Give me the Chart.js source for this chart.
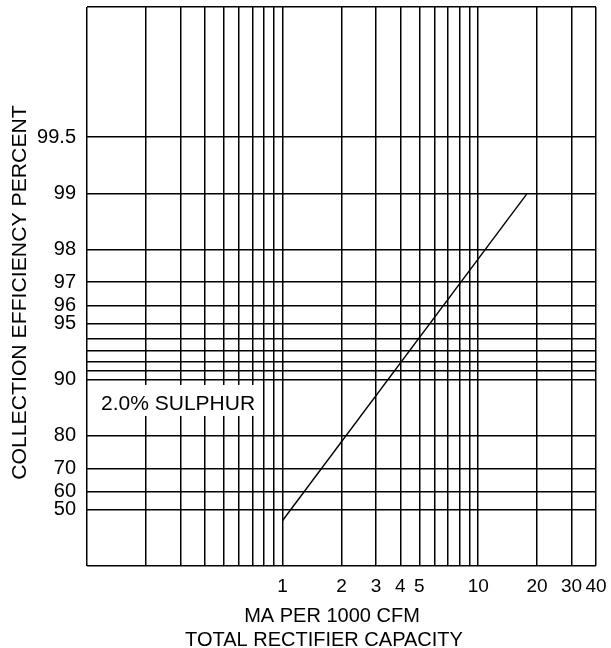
<!DOCTYPE html>
<html>
<head>
<meta charset="utf-8">
<script src="https://cdn.jsdelivr.net/npm/chart.js@4.4.0/dist/chart.umd.min.js"></script>
<style>
  body { margin: 0; background: #fff; }
  #wrap { width: 611px; height: 648px; position: relative; }
</style>
</head>
<body>
<div id="wrap"><canvas id="myChart"></canvas></div>
<script>
// Chart values
const capTicks = [0.1, 0.2, 0.3, 0.4, 0.5, 0.6, 0.7, 0.8, 0.9, 1, 2, 3, 4, 5, 6, 7, 8, 9, 10, 20, 30, 40];
const capLabels = ['', '', '', '', '', '', '', '', '', '1', '2', '3', '4', '5', '', '', '', '', '10', '20', '30', '40'];
const effTicks = [99.9, 99.5, 99, 98, 97, 96, 95, 94, 93, 92, 91, 90, 80, 70, 60, 50, 0];
const effLabels = ['', '99.5', '99', '98', '97', '96', '95', '', '', '', '', '90', '80', '70', '60', '50', ''];
const sulphurCap = [1, 17.8];
const sulphurEff = [43, 99];
const seriesLabel = '2.0% SULPHUR';
const xTitle = ['MA PER 1000 CFM', 'TOTAL RECTIFIER CAPACITY'];
const yTitle = 'COLLECTION EFFICIENCY PERCENT';

// efficiency is plotted as penetration (100 - eff) on a reversed log axis
const toPen = e => Math.round((100 - e) * 1000) / 1000;

const FONT = '"Liberation Sans", Arial, Helvetica, sans-serif';

const data = {
  datasets: [{
    label: seriesLabel,
    data: sulphurCap.map((c, i) => ({ x: c, y: toPen(sulphurEff[i]) })),
    borderColor: '#000',
    borderWidth: 1.4,
    pointRadius: 0,
    fill: false
  }]
};

// titles and the series label, drawn by hand so they sit where the reference has them
const textPlugin = {
  id: 'texts',
  afterDatasetsDraw(chart) {
    const ctx = chart.ctx;
    const xs = chart.scales.x, ys = chart.scales.y;
    ctx.save();
    ctx.fillStyle = '#000';

    // series label with white box
    ctx.font = '21px ' + FONT;
    const tx = xs.getPixelForValue(0.118);
    const ty = ys.getPixelForValue(toPen(86.5));
    const w = ctx.measureText(seriesLabel).width;
    ctx.fillStyle = '#fff';
    ctx.fillRect(tx - 5, ty - 19, w + 6.5, 31);
    ctx.fillStyle = '#000';
    ctx.textBaseline = 'middle';
    ctx.textAlign = 'left';
    ctx.fillText(seriesLabel, tx, ty);

    // x title
    ctx.font = '20px ' + FONT;
    ctx.textAlign = 'center';
    ctx.textBaseline = 'alphabetic';
    ctx.fillText(xTitle[0], 332, 622);
    ctx.fillText(xTitle[1], 324, 646);

    // y title
    ctx.translate(26, 292.5);
    ctx.rotate(-Math.PI / 2);
    ctx.scale(1.06, 1);
    ctx.textBaseline = 'alphabetic';
    ctx.fillText(yTitle, 0, 0);
    ctx.restore();
  }
};

const config = {
  type: 'line',
  data: data,
  options: {
    responsive: true,
    maintainAspectRatio: false,
    animation: false,
    layout: { padding: { top: 7, right: 15, left: 0, bottom: 0 } },
    plugins: {
      legend: { display: false },
      tooltip: { enabled: false }
    },
    scales: {
      x: {
        type: 'logarithmic',
        min: 0.1,
        max: 40,
        afterBuildTicks: s => { s.ticks = capTicks.map(v => ({ value: v })); },
        afterFit: s => { s.height = 82; s.paddingLeft = 0; s.paddingRight = 0; },
        border: { display: false },
        grid: { color: '#000', lineWidth: 1.5, drawTicks: false },
        ticks: {
          autoSkip: false,
          maxRotation: 0,
          padding: 9,
          color: '#000',
          font: { family: FONT, size: 19 },
          callback: (v, i) => capLabels[i]
        }
      },
      y: {
        type: 'logarithmic',
        reverse: true,
        min: 0.1,
        max: 100,
        afterBuildTicks: s => { s.ticks = effTicks.map(e => ({ value: toPen(e) })); },
        afterFit: s => { s.width = 87; s.paddingTop = 0; s.paddingBottom = 0; },
        border: { display: false },
        grid: { color: '#000', lineWidth: 1.5, drawTicks: false },
        ticks: {
          autoSkip: false,
          padding: 11,
          color: '#000',
          font: { family: FONT, size: 20 },
          callback: (v, i) => effLabels[i]
        }
      }
    }
  },
  plugins: [textPlugin]
};

const ctx = document.getElementById('myChart');
new Chart(ctx, config);
</script>
</body>
</html>
